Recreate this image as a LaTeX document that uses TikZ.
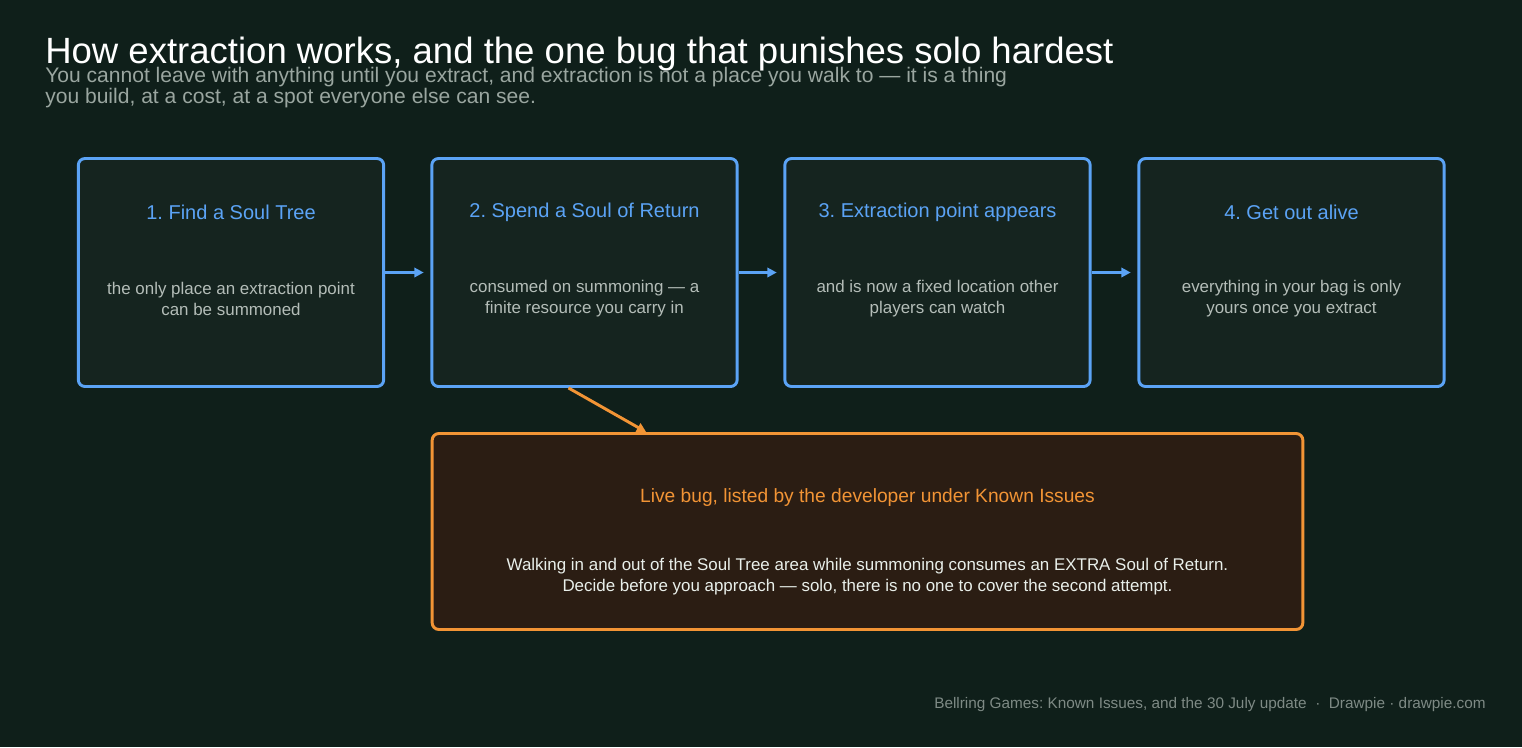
\documentclass[tikz,border=0pt]{standalone}
\usepackage{fontspec}
\setmainfont{Liberation Sans}
\frenchspacing
\usetikzlibrary{positioning}
\usetikzlibrary{arrows.meta}

\definecolor{bgcol}{HTML}{0F1F1A}
\definecolor{boxfill}{HTML}{15241F}
\definecolor{stepblue}{HTML}{5BA3F5}
\definecolor{bugorange}{HTML}{F29435}
\definecolor{bugfill}{HTML}{2B1D13}
\definecolor{bodygray}{HTML}{B4BDB8}
\definecolor{subgray}{HTML}{9AA6A0}
\definecolor{footgray}{HTML}{7E8A85}
\definecolor{bugtext}{HTML}{E9EFEA}

\tikzset{
    stepbox/.style={draw=stepblue, fill=boxfill, line width=2.2pt, rounded corners=5pt,
        minimum width=229pt, minimum height=171pt, inner sep=0pt},
    bugbox/.style={draw=bugorange, fill=bugfill, line width=2.2pt, rounded corners=5pt,
        minimum width=653pt, minimum height=147pt, inner sep=0pt},
    steptitle/.style={text=stepblue, font=\fontsize{15}{18}\selectfont},
    stepbody/.style={text=bodygray, font=\fontsize{12.7}{15.8}\selectfont, align=center},
    flow/.style={draw=stepblue, line width=2.2pt, -{Triangle[length=7pt,width=7pt]}, shorten >=5pt},
    bugflow/.style={draw=bugorange, line width=2.2pt, -{Triangle[length=7pt,width=7pt]}}
}

\begin{document}
\begin{tikzpicture}[x=0.75pt, y=-0.75pt]
    % Background
    \fill[bgcol] (0,0) rectangle (1522,747);
    \useasboundingbox (0,0) rectangle (1522,747);

    % Heading
    \node[anchor=base west, text=white, font=\fontsize{27.4}{32}\selectfont, inner sep=0pt] (title) at (45,63)
        {How extraction works, and the one bug that punishes solo hardest};
    \node[anchor=north west, text=subgray, font=\fontsize{15.8}{15.8}\selectfont, align=left, inner sep=0pt] (subtitle) at (45,67)
        {You cannot leave with anything until you extract, and extraction is not a place you walk to — it is a thing\\
         you build, at a cost, at a spot everyone else can see.};

    % Four steps
    \node[stepbox] (s1) at (231,272.5) {};
    \node[stepbox] (s2) at (584.5,272.5) {};
    \node[stepbox] (s3) at (937.5,272.5) {};
    \node[stepbox] (s4) at (1291.5,272.5) {};

    \node[steptitle] (t1) at (231,212) {1. Find a Soul Tree};
    \node[steptitle] (t2) at (584.5,212) {2. Spend a Soul of Return};
    \node[steptitle] (t3) at (937.5,212) {3. Extraction point appears};
    \node[steptitle] (t4) at (1291.5,212) {4. Get out alive};

    \node[stepbody] (b1) at (231,299) {the only place an extraction point\\can be summoned};
    \node[stepbody] (b2) at (584.5,299) {consumed on summoning — a\\finite resource you carry in};
    \node[stepbody] (b3) at (937.5,299) {and is now a fixed location other\\players can watch};
    \node[stepbody] (b4) at (1291.5,299) {everything in your bag is only\\yours once you extract};

    % Arrows between steps
    \draw[flow] (s1) -- (s2);
    \draw[flow] (s2) -- (s3);
    \draw[flow] (s3) -- (s4);

    % The bug
    \node[bugbox] (bug) at (867.5,531.5) {};
    \node[text=bugorange, font=\fontsize{14.4}{17}\selectfont] (bugtitle) at (867.5,498) {Live bug, listed by the developer under Known Issues};
    \node[text=bugtext, font=\fontsize{12.7}{16.3}\selectfont, align=center] (bugbody) at (867.5,576.5)
        {Walking in and out of the Soul Tree area while summoning consumes an EXTRA Soul of Return.\\
         Decide before you approach — solo, there is no one to cover the second attempt.};
    \draw[bugflow] ([xshift=-12pt]s2.south) -- ([xshift=-166pt]bug.north);

    % Source line
    \node[anchor=base east, text=footgray, font=\fontsize{11.5}{13}\selectfont, inner sep=0pt] (source) at (1486,708)
        {Bellring Games: Known Issues, and the 30 July update \ ·\ \ Drawpie · drawpie.com};

\end{tikzpicture}
\end{document}
